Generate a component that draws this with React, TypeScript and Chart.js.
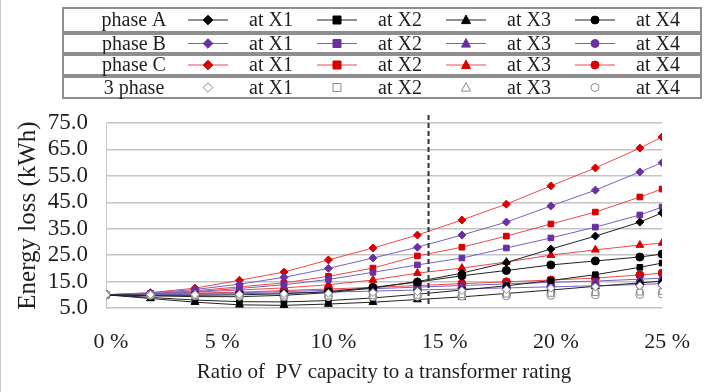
import React, { useEffect, useRef } from 'react';
import { Chart, registerables } from 'chart.js';

Chart.register(...registerables);

// ---- data ----
const xValues = [0, 2, 4, 6, 8, 10, 12, 14, 16, 18, 20, 22, 24, 25];
const xTickValues = [0, 5, 10, 15, 20, 25];
const yTickValues = [5, 15, 25, 35, 45, 55, 65, 75];
const yMin = 5;
const yMax = 75;
const thresholdX = 14.5;

const phaseA_X1 = [10.0, 9.6, 9.3, 9.3, 9.8, 10.8, 12.6, 15.0, 18.2, 22.2, 27.3, 32.2, 37.5, 41.0];
const phaseA_X2 = [10.0, 9.0, 8.0, 7.4, 7.3, 7.8, 8.8, 10.2, 11.8, 13.4, 15.4, 17.6, 20.4, 22.0];
const phaseA_X3 = [10.0, 8.6, 7.2, 6.2, 6.0, 6.5, 7.2, 8.2, 9.2, 10.5, 11.8, 13.2, 14.5, 15.2];
const phaseA_X4 = [10.0, 9.8, 9.8, 10.0, 10.4, 11.2, 12.8, 14.8, 17.2, 19.2, 21.3, 22.8, 24.3, 25.4];

const phaseB_X1 = [10.0, 10.7, 12.0, 14.0, 16.6, 20.0, 23.9, 28.0, 32.6, 37.5, 43.6, 49.6, 56.5, 60.0];
const phaseB_X2 = [10.0, 10.4, 11.2, 12.4, 13.8, 15.8, 18.5, 21.3, 23.9, 27.7, 31.5, 35.6, 40.2, 43.2];
const phaseB_X3 = [10.0, 10.1, 10.4, 10.8, 11.2, 11.7, 12.3, 12.9, 13.5, 14.1, 14.7, 15.2, 15.9, 16.3];
const phaseB_X4 = [10.0, 10.1, 10.2, 10.4, 10.7, 11.0, 11.4, 11.8, 12.2, 12.6, 13.0, 13.4, 13.9, 14.2];

const phaseC_X1 = [10.0, 10.8, 12.5, 15.5, 18.6, 23.2, 27.7, 32.6, 38.3, 44.3, 51.2, 58.0, 65.5, 69.7];
const phaseC_X2 = [10.0, 10.5, 11.5, 13.0, 14.5, 17.0, 20.1, 24.7, 28.0, 32.2, 36.8, 41.3, 47.0, 50.0];
const phaseC_X3 = [10.0, 10.3, 11.0, 11.8, 12.6, 13.8, 15.6, 18.2, 20.1, 22.4, 25.0, 27.0, 28.8, 29.6];
const phaseC_X4 = [10.0, 10.2, 10.6, 11.0, 11.6, 12.2, 12.8, 13.5, 14.2, 14.9, 15.6, 16.3, 17.5, 18.2];

const threePhase_X1 = [10.0, 10.0, 10.1, 10.2, 10.4, 10.6, 10.9, 11.2, 11.6, 12.0, 12.5, 13.0, 13.4, 13.7];
const threePhase_X2 = [10.0, 9.8, 9.6, 9.5, 9.5, 9.5, 9.6, 9.8, 10.0, 10.2, 10.5, 10.8, 11.0, 11.2];
const threePhase_X3 = [10.0, 9.9, 9.9, 9.9, 10.0, 10.1, 10.2, 10.4, 10.6, 10.9, 11.2, 11.5, 11.8, 12.0];
const threePhase_X4 = [10.0, 9.8, 9.6, 9.4, 9.3, 9.3, 9.3, 9.4, 9.5, 9.6, 9.8, 10.0, 10.1, 10.3];

const rowLabels = ['phase A', 'phase B', 'phase C', '3 phase'];
const locationLabels = ['at X1', 'at X2', 'at X3', 'at X4'];
const yTitle = 'Energy loss (kWh)';
const xTitle = 'Ratio of  PV capacity to a transformer rating';

// ---- styles ----
const FONT = '"Liberation Serif", "Times New Roman", serif';
const TEXT = '#1e1e1e';
const markerStyles = ['rectRot', 'rect', 'triangle', 'circle'];
const markerRadius = [4, 4, 4.5, 4];

const groups = [
  { series: [phaseA_X1, phaseA_X2, phaseA_X3, phaseA_X4], line: '#222222', marker: '#000000', fill: '#000000', showLine: true },
  { series: [phaseB_X1, phaseB_X2, phaseB_X3, phaseB_X4], line: '#7463c4', marker: '#6a2fa0', fill: '#6a2fa0', showLine: true },
  { series: [phaseC_X1, phaseC_X2, phaseC_X3, phaseC_X4], line: '#f04848', marker: '#d80000', fill: '#d80000', showLine: true },
  { series: [threePhase_X1, threePhase_X2, threePhase_X3, threePhase_X4], line: '#9a9a9a', marker: '#8a8a8a', fill: '#ffffff', showLine: false },
];

function drawMarker(ctx: CanvasRenderingContext2D, style: string, x: number, y: number, r: number, fill: string, stroke: string) {
  ctx.beginPath();
  if (style === 'rectRot') {
    ctx.moveTo(x, y - r * 1.2);
    ctx.lineTo(x + r * 1.2, y);
    ctx.lineTo(x, y + r * 1.2);
    ctx.lineTo(x - r * 1.2, y);
    ctx.closePath();
  } else if (style === 'rect') {
    ctx.rect(x - r, y - r, 2 * r, 2 * r);
  } else if (style === 'triangle') {
    ctx.moveTo(x, y - r * 1.1);
    ctx.lineTo(x + r, y + r * 0.8);
    ctx.lineTo(x - r, y + r * 0.8);
    ctx.closePath();
  } else {
    ctx.arc(x, y, r, 0, Math.PI * 2);
  }
  ctx.fillStyle = fill;
  ctx.fill();
  ctx.lineWidth = 1;
  ctx.strokeStyle = stroke;
  ctx.stroke();
}

const legendPlugin = {
  id: 'gridLegend',
  afterDraw(chart: any) {
    const ctx: CanvasRenderingContext2D = chart.ctx;
    const rowTops = [8, 34, 55, 77];
    const rowHeights = [24, 19, 20, 21];
    const boxLeft = 62;
    const boxRight = 700;
    const markerXs = [207, 336, 465, 594];
    const textXs = [248, 377, 506, 635];
    ctx.save();
    for (let r = 0; r < 4; r++) {
      const top = rowTops[r];
      const h = rowHeights[r];
      const cy = top + h / 2;
      ctx.strokeStyle = '#8e8e8e';
      ctx.lineWidth = 2;
      ctx.strokeRect(boxLeft, top, boxRight - boxLeft, h);
      ctx.font = `20px ${FONT}`;
      ctx.fillStyle = TEXT;
      ctx.textBaseline = 'middle';
      ctx.textAlign = 'center';
      ctx.fillText(rowLabels[r], 133, cy + 1);
      const g = groups[r];
      for (let c = 0; c < 4; c++) {
        const mx = markerXs[c];
        if (g.showLine) {
          ctx.beginPath();
          ctx.moveTo(mx - 20, cy);
          ctx.lineTo(mx + 20, cy);
          ctx.strokeStyle = g.line;
          ctx.lineWidth = 1;
          ctx.stroke();
        }
        drawMarker(ctx, markerStyles[c], mx, cy, markerRadius[c], g.fill, g.marker);
        ctx.font = `20px ${FONT}`;
        ctx.fillStyle = TEXT;
        ctx.textAlign = 'left';
        ctx.fillText(locationLabels[c], textXs[c], cy + 1);
      }
    }
    ctx.restore();
  },
};

const thresholdPlugin = {
  id: 'thresholdLine',
  afterDatasetsDraw(chart: any) {
    const ctx: CanvasRenderingContext2D = chart.ctx;
    const xs = chart.scales.x;
    const area = chart.chartArea;
    const px = xs.getPixelForValue(thresholdX);
    ctx.save();
    ctx.beginPath();
    ctx.setLineDash([5, 3]);
    ctx.strokeStyle = '#333333';
    ctx.lineWidth = 2;
    ctx.moveTo(px, area.top - 8);
    ctx.lineTo(px, area.bottom - 4);
    ctx.stroke();
    ctx.restore();
  },
};

export default function App() {
  const canvasRef = useRef<HTMLCanvasElement | null>(null);

  useEffect(() => {
    if (!canvasRef.current) return;
    const datasets: any[] = [];
    const order = [3, 0, 1, 2];
    order.forEach((gi) => {
      const g = groups[gi];
      g.series.forEach((values, si) => {
        datasets.push({
          label: `${rowLabels[gi]} ${locationLabels[si]}`,
          data: xValues.map((x, i) => ({ x, y: values[i] })),
          borderColor: g.line,
          borderWidth: 1,
          backgroundColor: g.fill,
          pointBackgroundColor: g.fill,
          pointBorderColor: g.marker,
          pointBorderWidth: 1,
          pointStyle: markerStyles[si],
          pointRadius: markerRadius[si],
          showLine: g.showLine,
          tension: 0,
        });
      });
    });

    const chart = new Chart(canvasRef.current, {
      type: 'line',
      data: { datasets },
      options: {
        animation: false,
        responsive: false,
        maintainAspectRatio: false,
        layout: { padding: { left: 0, top: 123, right: 38, bottom: 0 } },
        plugins: { legend: { display: false }, tooltip: { enabled: false } },
        scales: {
          x: {
            type: 'linear',
            min: 0,
            max: 25,
            afterFit: (s: any) => { s.height = 84; },
            afterBuildTicks: (s: any) => { s.ticks = xTickValues.map((v) => ({ value: v })); },
            grid: { display: false, drawTicks: false },
            border: { display: false },
            ticks: {
              autoSkip: false,
              maxRotation: 0,
              padding: 21,
              labelOffset: 5,
              color: TEXT,
              font: { family: FONT, size: 22 },
              callback: (v: any) => `${v} %`,
            },
            title: {
              display: true,
              text: xTitle,
              color: TEXT,
              font: { family: FONT, size: 21 },
              padding: { top: 0, bottom: 7 },
            },
          },
          y: {
            type: 'linear',
            min: yMin,
            max: yMax,
            afterFit: (s: any) => { s.width = 105; },
            afterBuildTicks: (s: any) => { s.ticks = yTickValues.map((v) => ({ value: v })); },
            grid: { color: '#c4c4c4', lineWidth: 1.5, drawTicks: false },
            border: { display: true, color: '#c8c8c8', width: 1 },
            ticks: {
              autoSkip: false,
              padding: 18,
              color: TEXT,
              font: { family: FONT, size: 23 },
              callback: (v: any) => Number(v).toFixed(1),
            },
            title: {
              display: true,
              text: yTitle,
              color: TEXT,
              font: { family: FONT, size: 25 },
              padding: { top: 12, bottom: 0 },
            },
          },
        },
      },
      plugins: [legendPlugin, thresholdPlugin],
    } as any);
    return () => chart.destroy();
  }, []);

  return (
    <div style={{ position: 'fixed', left: 0, top: 0, width: 706, height: 392, background: '#ffffff', borderLeft: '1px solid #c8c8c8', boxSizing: 'border-box' }}>
      <canvas ref={canvasRef} width={705} height={392} style={{ display: 'block' }} />
    </div>
  );
}
